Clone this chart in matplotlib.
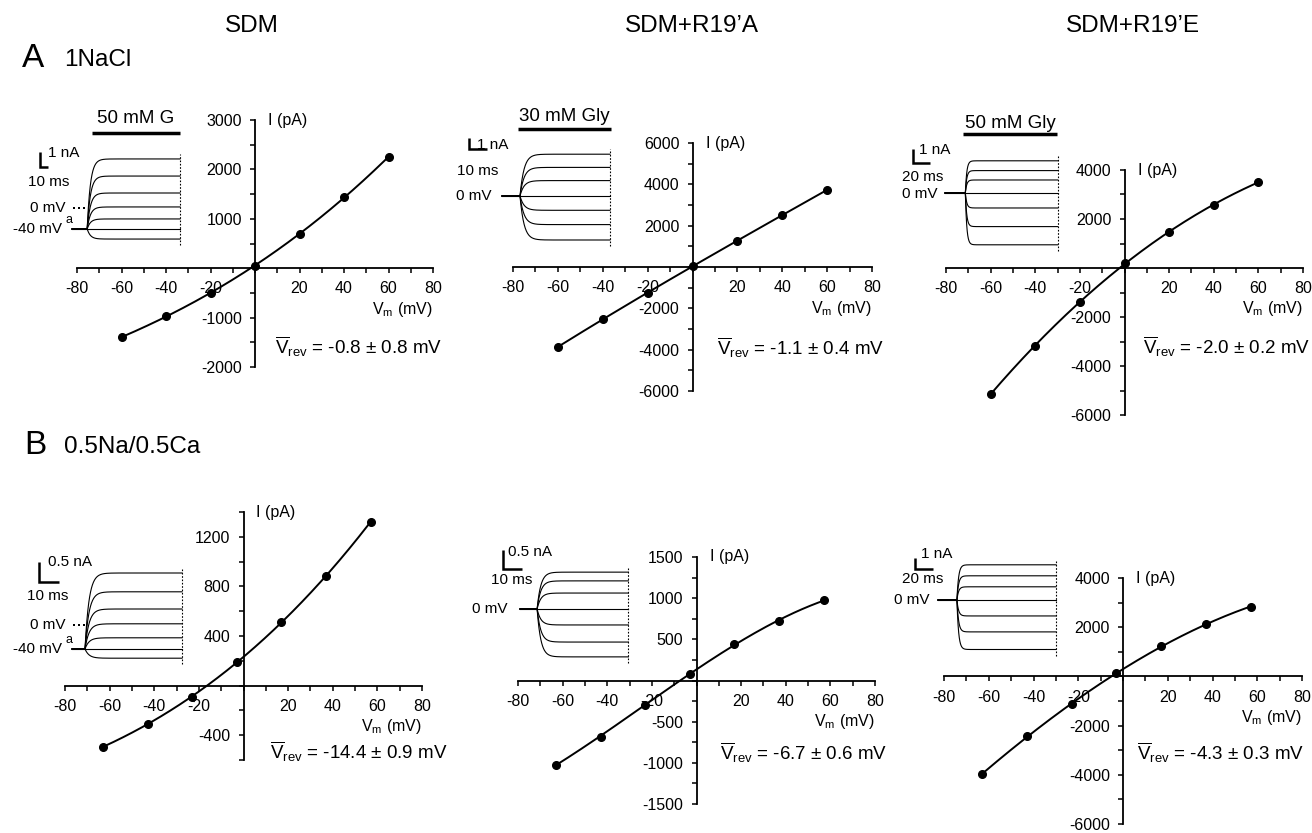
import numpy as np
import matplotlib
matplotlib.use("Agg")
import matplotlib.pyplot as plt
from matplotlib.ticker import MultipleLocator, FuncFormatter

plt.rcParams['font.family'] = ['Liberation Sans', 'DejaVu Sans']
plt.rcParams['mathtext.fontset'] = 'custom'
plt.rcParams['mathtext.rm'] = 'Liberation Sans'
plt.rcParams['mathtext.it'] = 'Liberation Sans:italic'
plt.rcParams['mathtext.bf'] = 'Liberation Sans:bold'

W, H = 1312, 833

# ---- data ----
columns = ["SDM", "SDM+R19\u2019A", "SDM+R19\u2019E"]
row_a_label = "1NaCl"
row_b_label = "0.5Na/0.5Ca"

vm_a = [-60, -40, -20, 0, 20, 40, 60]          # mV
vm_b = [-63, -43, -23, -3, 17, 37, 57]         # mV (junction corrected)

i_a_sdm = [-1400, -970, -500, 50, 690, 1440, 2250]       # pA
i_a_r19a = [-3870, -2520, -1260, 50, 1260, 2520, 3730]
i_a_r19e = [-5140, -3180, -1390, 200, 1470, 2570, 3510]
i_b_sdm = [-495, -308, -89, 187, 511, 884, 1322]
i_b_r19a = [-1024, -683, -293, 85, 439, 720, 976]
i_b_r19e = [-3976, -2434, -1136, 122, 1217, 2110, 2840]

vrev_text = ["-0.8 \u00b1 0.8", "-1.1 \u00b1 0.4", "-2.0 \u00b1 0.2",
             "-14.4 \u00b1 0.9", "-6.7 \u00b1 0.6", "-4.3 \u00b1 0.3"]

# inset current traces: steady-state amplitudes (nA), top to bottom
tr_a_sdm = [4.67, 3.53, 2.4, 1.47, 0.67, 0.0, -0.67]
tr_a_r19a = [3.8, 2.6, 1.4, 0.0, -1.3, -2.6, -4.0]
tr_a_r19e = [2.3, 1.6, 0.93, 0.0, -1.07, -2.4, -3.7]
tr_b_sdm = [1.9, 1.43, 1.0, 0.63, 0.28, 0.0, -0.23]
tr_b_r19a = [0.97, 0.74, 0.42, 0.0, -0.42, -0.87, -1.26]
tr_b_r19e = [3.2, 2.2, 1.2, 0.0, -1.45, -2.9, -4.5]

# trace timing (ms): onset, rise, end
tr_onset = [19, 10, 24, 6.5, 9, 21]
tr_rise = [12, 6.7, 5, 6, 5.8, 5.5]
tr_end = [135, 60, 133, 55, 57, 131]

# scale bars (nA, ms) and labels
sb_na = [1, 1, 1, 0.5, 0.5, 1]
sb_ms = [10, 10, 20, 10, 10, 20]
sb_na_lab = ["1 nA", "1 nA", "1 nA", "0.5 nA", "0.5 nA", "1 nA"]
sb_ms_lab = ["10 ms", "10 ms", "20 ms", "10 ms", "10 ms", "20 ms"]
glycine = ["50 mM G", "30 mM Gly", "50 mM Gly"]

iv_v = [vm_a, vm_a, vm_a, vm_b, vm_b, vm_b]
iv_i = [i_a_sdm, i_a_r19a, i_a_r19e, i_b_sdm, i_b_r19a, i_b_r19e]
traces = [tr_a_sdm, tr_a_r19a, tr_a_r19e, tr_b_sdm, tr_b_r19a, tr_b_r19e]

# ---- layout (pixels) ----
iv_box = [(77, 120, 433, 367), (513, 143, 872, 391), (946, 170, 1303, 415),
          (65, 512, 422, 760), (518, 557, 875, 804), (944, 578, 1302, 824)]
iv_ylim = [(-2000, 3000), (-6000, 6000), (-6000, 4000),
           (-600, 1400), (-1500, 1500), (-6000, 4000)]
iv_ymaj = [1000, 2000, 2000, 400, 500, 2000]
vrev_pos = [(275, 347), (717, 348), (1143, 347), (270, 752), (720, 753), (1137, 753)]

# inset: box, origin of trace (px), ms per px, nA per px, scale-bar corner
ins_box = [(0, 100, 200, 260), (450, 110, 640, 260), (890, 115, 1080, 265),
           (0, 540, 200, 680), (480, 540, 650, 680), (890, 545, 1080, 670)]
ins_org = [(72, 229), (502, 196), (945, 193), (72, 649), (520, 609), (938, 600)]
ins_msp = [1.25, 0.556, 1.18, 0.5, 0.526, 1.11]
ins_nap = [1 / 15, 1 / 11, 1 / 14, 0.5 / 20, 0.5 / 19, 1 / 11]
sb_corner = [(40, 167), (469, 149), (913, 163), (39, 582), (503, 569), (915, 569)]
sb_na_xy = [(48, 153), (477, 145), (919, 150), (48, 562), (508, 552), (921, 554)]
sb_ms_xy = [(49, 182), (478, 171), (923, 177), (48, 596), (512, 580), (923, 579)]
zero_xy = [(66, 208), (492, 196), (937, 194), (66, 625), (508, 609), (930, 600)]
gly_bar = [(92, 180, 133, 118), (518, 611, 129, 116), (963, 1057, 134, 123)]

fig = plt.figure(figsize=(W / 100, H / 100), dpi=100)
fig.patch.set_facecolor('white')

ov = fig.add_axes([0, 0, 1, 1])
ov.set_xlim(0, W)
ov.set_ylim(H, 0)
ov.axis('off')


def px_axes(l, t, r, b):
    return fig.add_axes([l / W, 1 - b / H, (r - l) / W, (b - t) / H])


fmt = FuncFormatter(lambda v, p: '' if abs(v) < 1e-9 else '%d' % round(v))

# headers
for x, name in zip([252, 692, 1133], columns):
    ov.text(x, 26, name, fontsize=17.5, ha='center', va='center')
ov.text(22, 58, "A", fontsize=24, ha='left', va='center')
ov.text(64, 60, row_a_label, fontsize=17.5, ha='left', va='center')
ov.text(24, 445, "B", fontsize=24, ha='left', va='center')
ov.text(64, 447, row_b_label, fontsize=17.5, ha='left', va='center')

for k in range(6):
    # ---- I-V plot ----
    ax = px_axes(*iv_box[k])
    ax.patch.set_visible(False)
    ax.set_xlim(-80, 80)
    ax.set_ylim(*iv_ylim[k])
    for s in ['top', 'right']:
        ax.spines[s].set_visible(False)
    for s in ['left', 'bottom']:
        ax.spines[s].set_position('zero')
        ax.spines[s].set_linewidth(1.3)
    ax.xaxis.set_major_locator(MultipleLocator(20))
    ax.xaxis.set_minor_locator(MultipleLocator(10))
    ax.yaxis.set_major_locator(MultipleLocator(iv_ymaj[k]))
    ax.yaxis.set_minor_locator(MultipleLocator(iv_ymaj[k] / 2))
    ax.xaxis.set_major_formatter(fmt)
    ax.yaxis.set_major_formatter(fmt)
    ax.tick_params(which='both', direction='out', length=3.5, width=1.1,
                   labelsize=11.5, pad=6)

    v = np.array(iv_v[k], dtype=float)
    cur = np.array(iv_i[k], dtype=float)
    coef = np.polyfit(v, cur, 3)
    vv = np.linspace(v.min(), v.max(), 200)
    ax.plot(vv, np.polyval(coef, vv), color='k', lw=1.4, zorder=3)
    ax.plot(v, cur, 'o', color='k', ms=5.5, zorder=4, clip_on=False)

    ax.annotate("I (pA)", xy=(0, iv_ylim[k][1]), xytext=(13, 0),
                textcoords='offset pixels', fontsize=11.5, ha='left', va='center')
    ax.annotate(r"V$_\mathregular{m}$ (mV)", xy=(80, 0), xytext=(0, -41),
                textcoords='offset pixels', fontsize=11.5, ha='right', va='center')

    vx, vy = vrev_pos[k]
    ov.text(vx, vy, r"$\overline{\mathregular{V}}_{\mathregular{rev}}$ = " + vrev_text[k] + " mV",
            fontsize=13.5, ha='left', va='center')

    # ---- inset current traces ----
    l, t, r, b = ins_box[k]
    ox, oy = ins_org[k]
    msp, nap = ins_msp[k], ins_nap[k]
    ia = px_axes(l, t, r, b)
    ia.set_xlim((l - ox) * msp, (r - ox) * msp)
    ia.set_ylim((oy - b) * nap, (oy - t) * nap)
    ia.axis('off')

    tt = np.linspace(0, tr_end[k], 600)
    tau = tr_rise[k] / 3.0
    step = np.where(tt < tr_onset[k], 0.0,
                    1 - np.exp(-np.clip(tt - tr_onset[k], 0, None) / tau))
    for lev in traces[k]:
        ia.plot(tt, lev * step, color='k', lw=0.8)
    lo, hi = min(traces[k]), max(traces[k])
    ia.plot([tr_end[k], tr_end[k]], [lo - 6 * nap, hi + 5 * nap],
            color='k', lw=0.8, ls=(0, (1.5, 1.5)))

    # scale bar
    cx, cy = sb_corner[k]
    tc, ic = (cx - ox) * msp, (oy - cy) * nap
    ia.plot([tc, tc, tc + sb_ms[k]], [ic + sb_na[k], ic, ic],
            color='k', lw=1.8, solid_joinstyle='miter', solid_capstyle='butt')
    ov.text(*sb_na_xy[k], sb_na_lab[k], fontsize=11, ha='left', va='center')
    ov.text(*sb_ms_xy[k], sb_ms_lab[k], fontsize=11, ha='center', va='center')
    ov.text(*zero_xy[k], "0 mV", fontsize=11, ha='right', va='center')

    if k < 3:
        x0, x1, yb, yt = gly_bar[k]
        ov.plot([x0, x1], [yb, yb], color='k', lw=2.5, solid_capstyle='butt')
        ov.text((x0 + x1) / 2, yt, glycine[k], fontsize=13.5, ha='center', va='center')

# holding-potential labels for the SDM traces
for y0, yz in [(229, 208), (649, 625)]:
    ov.text(62, y0, "-40 mV", fontsize=11, ha='right', va='center')
    ov.text(69.5, y0 - 9, "a", fontsize=9, ha='center', va='center')
    ov.plot([74, 79, 84], [yz, yz, yz], 's', color='k', ms=1.6, mew=0)

fig.savefig("out.png", dpi=100)
